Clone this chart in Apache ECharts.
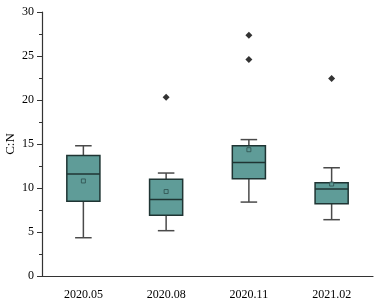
<!DOCTYPE html>
<html>
<head>
<meta charset="utf-8">
<script src="https://cdn.jsdelivr.net/npm/echarts@6/dist/echarts.min.js"></script>
<style>
  html, body { margin: 0; padding: 0; background: #fff; }
  #main { width: 378px; height: 305px; }
</style>
</head>
<body>
<div id="main"></div>
<script>
// 数据：每个采样时间的箱线统计
const categories = ['2020.05', '2020.08', '2020.11', '2021.02']
const boxMin = [4.35, 5.15, 8.4, 6.4]
const boxQ1 = [8.5, 6.9, 11.05, 8.2]
const boxMedian = [11.6, 8.7, 12.9, 9.9]
const boxQ3 = [13.7, 11.0, 14.8, 10.6]
const boxMax = [14.8, 11.7, 15.5, 12.3]
const means = [10.8, 9.6, 14.35, 10.45]
// 异常值 [类别下标, 数值]
const outliers = [[1, 20.3], [2, 24.6], [2, 27.35], [3, 22.45]]
const yTicks = [0, 5, 10, 15, 20, 25, 30]

const fontFamily = 'Liberation Serif'
const boxFill = '#5f9c98'
const boxLine = '#1f3433'
const whiskerLine = '#4a4a4a'

const myChart = echarts.init(document.getElementById('main'))

const boxData = categories.map((c, i) => [i, boxMin[i], boxQ1[i], boxMedian[i], boxQ3[i], boxMax[i]])

function renderBox(params, api) {
    const idx = api.value(0)
    const band = api.size([1, 0])[0]
    const half = band * 0.2
    const capHalf = half * 0.5
    const pMin = api.coord([idx, api.value(1)])
    const pQ1 = api.coord([idx, api.value(2)])
    const pMed = api.coord([idx, api.value(3)])
    const pQ3 = api.coord([idx, api.value(4)])
    const pMax = api.coord([idx, api.value(5)])
    const x = pMed[0]
    const wStyle = { stroke: whiskerLine, lineWidth: 1.5 }
    return {
        type: 'group',
        children: [
            { type: 'line', shape: { x1: x, y1: pQ3[1], x2: x, y2: pMax[1] }, style: wStyle },
            { type: 'line', shape: { x1: x, y1: pQ1[1], x2: x, y2: pMin[1] }, style: wStyle },
            { type: 'line', shape: { x1: x - capHalf, y1: pMax[1], x2: x + capHalf, y2: pMax[1] }, style: wStyle },
            { type: 'line', shape: { x1: x - capHalf, y1: pMin[1], x2: x + capHalf, y2: pMin[1] }, style: wStyle },
            {
                type: 'rect',
                shape: { x: x - half, y: pQ3[1], width: half * 2, height: pQ1[1] - pQ3[1] },
                style: { fill: boxFill, stroke: boxLine, lineWidth: 1.5 }
            },
            { type: 'line', shape: { x1: x - half, y1: pMed[1], x2: x + half, y2: pMed[1] }, style: { stroke: boxLine, lineWidth: 1.5 } }
        ]
    }
}

const option = {
    animation: false,
    backgroundColor: '#fff',
    grid: { left: 42, right: 5, top: 12, bottom: 29, containLabel: false, outerBoundsMode: 'none' },
    xAxis: {
        type: 'category',
        data: categories,
        boundaryGap: true,
        axisLine: { lineStyle: { color: '#333', width: 1.2 } },
        axisTick: { alignWithLabel: true, length: 5, lineStyle: { color: '#333' } },
        axisLabel: { color: '#000', fontFamily: fontFamily, fontSize: 12, margin: 13 }
    },
    yAxis: {
        type: 'value',
        min: yTicks[0],
        max: yTicks[yTicks.length - 1],
        interval: 5,
        name: 'C:N',
        nameLocation: 'middle',
        nameGap: 25,
        nameRotate: 90,
        nameMoveOverlap: false,
        nameTextStyle: { color: '#000', fontFamily: fontFamily, fontSize: 13 },
        axisLine: { show: true, lineStyle: { color: '#333', width: 1.2 } },
        axisTick: { show: true, length: 5, lineStyle: { color: '#333' } },
        minorTick: { show: true, splitNumber: 2, length: 3, lineStyle: { color: '#333' } },
        splitLine: { show: false },
        axisLabel: { color: '#000', fontFamily: fontFamily, fontSize: 12, margin: 8 }
    },
    series: [
        {
            type: 'custom',
            renderItem: renderBox,
            data: boxData,
            encode: { x: 0, y: [1, 2, 3, 4, 5] }
        },
        {
            type: 'scatter',
            data: means.map((m, i) => [i, m]),
            symbol: 'rect',
            symbolSize: 4,
            itemStyle: { color: boxFill, borderColor: '#2e4f4d', borderWidth: 1 },
            z: 5
        },
        {
            type: 'scatter',
            data: outliers,
            symbol: 'diamond',
            symbolSize: 7,
            itemStyle: { color: '#000' },
            z: 5
        }
    ]
}

myChart.setOption(option)
</script>
</body>
</html>
